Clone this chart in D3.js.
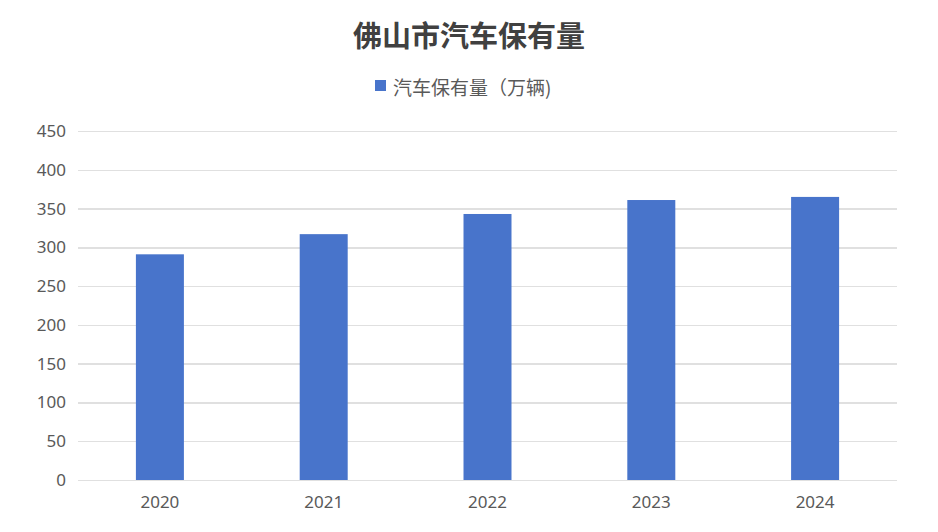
<!DOCTYPE html>
<html>
<head>
<meta charset="utf-8">
<script src="https://cdn.jsdelivr.net/npm/d3@7/dist/d3.min.js"></script>
<style>
body { margin: 0; background: #fff; }
text { font-family: "Noto Sans CJK SC", "Noto Sans", sans-serif; }
.grid line { stroke: #e0e0e0; stroke-width: 1.5; shape-rendering: crispEdges; }
.grid path { stroke-width: 0; }
.axis path, .axis line { stroke: none; }
.axis text { fill: #595959; font-size: 17px; font-family: "Noto Sans", sans-serif; }
</style>
</head>
<body>
<div id="chart"></div>
<script>
var years = ["2020", "2021", "2022", "2023", "2024"];
var cars = [291, 317, 343, 361, 365];
var yTicks = [0, 50, 100, 150, 200, 250, 300, 350, 400, 450];

var width = 938;
var height = 532;
var margin = ({top: 131, right: 41, bottom: 52, left: 78});

var data = years.map((y, i) => ({year: y, value: cars[i]}));

var svg = d3.select("#chart")
  .append("svg")
    .attr("width", width)
    .attr("height", height);

var x_scale = d3.scaleBand()
    .domain(years)
    .range([margin.left, width - margin.right])
    .paddingInner(0.707)
    .paddingOuter(0.3535);

var y_scale = d3.scaleLinear()
    .domain([0, 450])
    .range([height - margin.bottom, margin.top]);

// y-grid
svg.append("g")
    .attr("class", "grid")
    .attr("transform", `translate(${margin.left},0)`)
    .call(
        d3.axisLeft(y_scale)
            .tickValues(yTicks)
            .tickSize(-(width - margin.left - margin.right))
            .tickFormat("")
    );

svg.append("g")
    .attr("class", "axis")
    .attr("transform", `translate(${margin.left},0)`)
    .call(d3.axisLeft(y_scale).tickValues(yTicks).tickSize(0).tickPadding(12));

svg.append("g")
    .attr("class", "axis")
    .attr("transform", `translate(0,${height - margin.bottom})`)
    .call(d3.axisBottom(x_scale).tickSize(0).tickPadding(16));

svg.selectAll(".bar")
    .data(data)
    .enter()
    .append("rect")
      .attr("class", "bar")
      .attr("fill", "#4874cb")
      .attr("x", d => x_scale(d.year))
      .attr("y", d => y_scale(d.value))
      .attr("width", x_scale.bandwidth())
      .attr("height", d => y_scale(0) - y_scale(d.value));

// title
svg.append("text")
    .attr("x", width / 2)
    .attr("y", 34)
    .attr("text-anchor", "middle")
    .attr("dominant-baseline", "central")
    .attr("fill", "#404040")
    .attr("font-size", "29px")
    .attr("font-weight", "bold")
    .text("佛山市汽车保有量");

// legend
var legend = svg.append("g").attr("transform", "translate(375,80)");
legend.append("rect")
    .attr("width", 11)
    .attr("height", 11)
    .attr("fill", "#4874cb");
legend.append("text")
    .attr("x", 18)
    .attr("y", 6)
    .attr("dominant-baseline", "central")
    .attr("fill", "#595959")
    .attr("font-size", "19px")
    .text("汽车保有量（万辆)");
</script>
</body>
</html>
